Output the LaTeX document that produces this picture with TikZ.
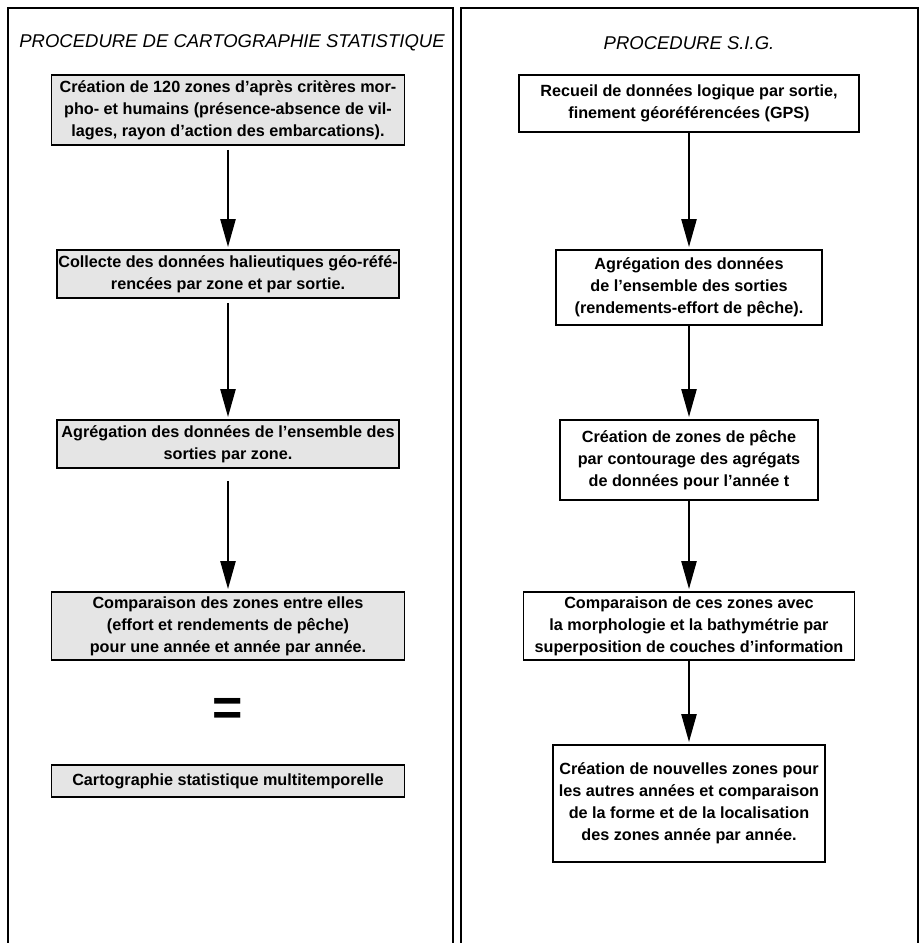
\documentclass[tikz,border=0pt]{standalone}
\usepackage{fontspec}
\setmainfont{Liberation Sans}
\usetikzlibrary{positioning,arrows.meta}

\begin{document}
\begin{tikzpicture}[x=1pt,y=-1pt,
        boite/.style={draw,line width=1.8pt,align=center,inner sep=0pt,
                font=\fontsize{16.2}{22}\selectfont\bfseries},
        grise/.style={boite,fill=black!10},
        blanche/.style={boite,fill=white},
        fleche/.style={-{Triangle[length=28pt,width=15pt]},line width=2.4pt,
                shorten <=4pt,shorten >=2pt},
        titre/.style={font=\fontsize{18.5}{22}\selectfont\itshape}]
            \useasboundingbox (0,0) rectangle (922,943);
            \draw [line width=2.5pt] (8,943) -- (8,8) -- (453,8) -- (453,943);
            \draw [line width=2.5pt] (461,943) -- (461,8) -- (918,8) -- (918,943);

            \node [titre] (titreG) at (232,43) {PROCEDURE DE CARTOGRAPHIE STATISTIQUE};
            \node [titre] (titreD) at (689,43) {PROCEDURE S.I.G.};

            % procedure de cartographie statistique
            \node [grise,minimum width=353pt,minimum height=70pt] (creation) at (228,110)
                {Création de 120 zones d'après critères mor-\\pho- et humains (présence-absence de vil-\\lages, rayon d'action des embarcations).};
            \node [grise,minimum width=342pt,minimum height=48pt] (collecte) at (228,274)
                {Collecte des données halieutiques géo-réfé-\\rencées par zone et par sortie.};
            \node [grise,minimum width=342pt,minimum height=48pt] (agregG) at (228,444)
                {Agrégation des données de l'ensemble des\\sorties par zone.};
            \node [grise,minimum width=353pt,minimum height=68pt] (comparG) at (228,626)
                {Comparaison des zones entre elles\\(effort et rendements de pêche)\\pour une année et année par année.};
            \node [font=\fontsize{52}{52}\selectfont\bfseries] (egal) at (228,712) {=};
            \node [grise,minimum width=353pt,minimum height=32pt] (carto) at (228,781)
                {Cartographie statistique multitemporelle};

            % procedure S.I.G.
            \node [blanche,minimum width=340pt,minimum height=57pt] (recueil) at (689,103.5)
                {Recueil de données logique par sortie,\\finement géoréférencées (GPS)};
            \node [blanche,minimum width=266pt,minimum height=75pt] (agregD) at (689,287.5)
                {Agrégation des données\\de l'ensemble des sorties\\(rendements-effort de pêche).};
            \node [blanche,minimum width=258pt,minimum height=80pt] (peche) at (689,460)
                {Création de zones de pêche\\par contourage des agrégats\\de données pour l'année t};
            \node [blanche,minimum width=331pt,minimum height=68pt] (comparD) at (689,626)
                {Comparaison de ces zones avec\\la morphologie et la bathymétrie par\\superposition de couches d'information};
            \node [blanche,minimum width=272pt,minimum height=117pt] (nouvelles) at (689,803.5)
                {Création de nouvelles zones pour\\les autres années et comparaison\\de la forme et de la localisation\\des zones année par année.};

            \draw [fleche] (creation) -- (collecte);
            \draw [fleche] (collecte) -- (agregG);
            \draw [fleche,shorten <=12pt] (agregG) -- (comparG);
            \draw [fleche,shorten <=0pt] (recueil) -- (agregD);
            \draw [fleche,shorten <=0pt] (agregD) -- (peche);
            \draw [fleche,shorten <=0pt] (peche) -- (comparD);
            \draw [fleche,shorten <=0pt] (comparD) -- (nouvelles);
        \end{tikzpicture}
\end{document}
